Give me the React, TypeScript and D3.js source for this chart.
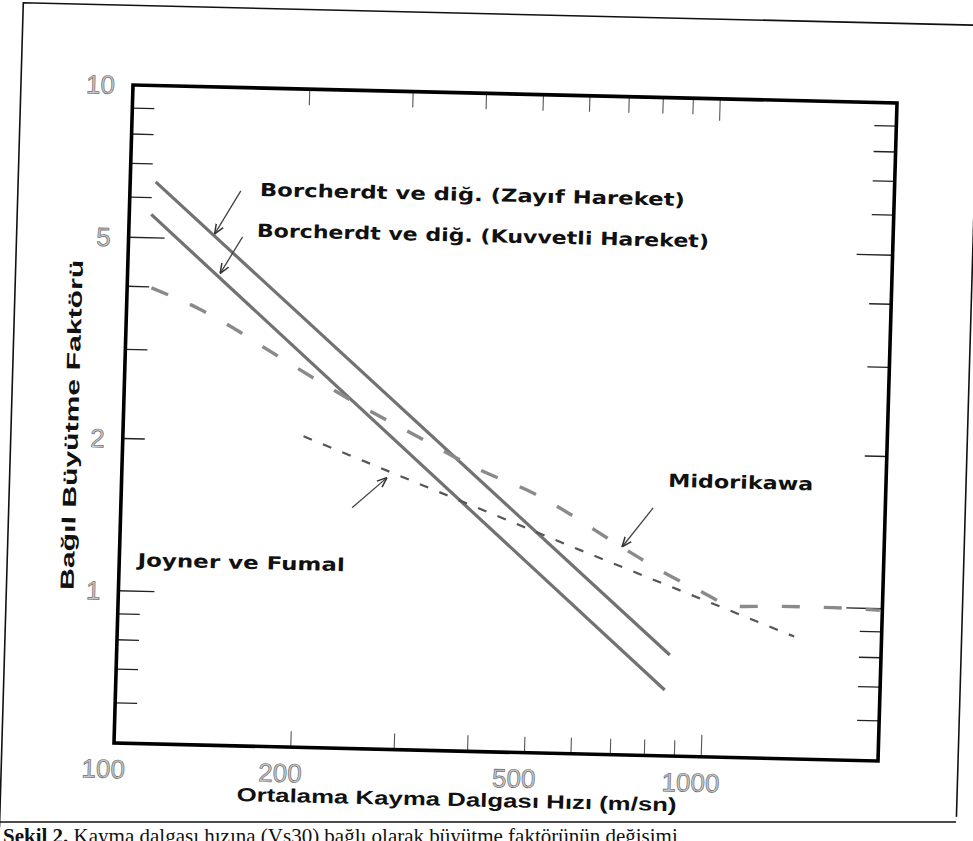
import React from "react";
import * as d3 from "d3";

// Vs30 (m/sn) vs relative amplification
const borcherdtWeakV = [110.5, 874];
const borcherdtWeakF = [6.45, 0.792];
const borcherdtStrongV = [109, 860];
const borcherdtStrongF = [5.56, 0.675];
const midorikawaV = [110, 132, 152, 174, 266, 308, 407, 497, 730, 843, 965, 1130, 1340, 1565, 1980];
const midorikawaF = [3.98, 3.65, 3.35, 3.05, 2.31, 2.12, 1.8, 1.64, 1.27, 1.155, 1.07, 0.995, 1.0, 1.0, 0.993];
const joynerV = [203, 591, 1420];
const joynerF = [2.06, 1.28, 0.873];

const xTickValues = [200, 300, 400, 500, 600, 700, 800, 900, 1000];
const xLabelValues = [100, 200, 500, 1000];
const yTickValues = [0.6, 0.7, 0.8, 0.9, 1, 2, 3, 4, 5, 6, 7, 8, 9];
const yMajorTicks = [1, 5];
const yLabelValues = [1, 2, 5, 10];

const labelTexts = [
  "Borcherdt ve diğ. (Zayıf Hareket)",
  "Borcherdt ve diğ. (Kuvvetli Hareket)",
  "Midorikawa",
  "Joyner ve Fumal",
];
const labelV = [166.4, 165.2, 851.8, 107.5];
const labelF = [6.12, 5.08, 1.702, 1.12];
const labelWidths = [425, 452, 145, 207];

const arrowFromV = [154.4, 156.3, 805.4, 247.5];
const arrowFromF = [6.25, 5.07, 1.544, 1.496];
const arrowToV = [140, 143.7, 716, 282.9];
const arrowToF = [5.12, 4.28, 1.288, 1.722];

const xTitle = "Ortalama Kayma  Dalgası Hızı (m/sn)";
const yTitle = "Bağıl  Büyütme  Faktörü";

const App = () => {
  const width = 973;
  const height = 841;
  const plotW = 764;
  const plotH = 658;

  const x = d3.scaleLog().domain([100, 2000]).range([0, plotW]);
  const y = d3.scaleLog().domain([0.5, 10]).range([plotH, 0]);

  const line = (vs: number[], fs: number[], curve = d3.curveLinear) =>
    d3
      .line<number>()
      .x((d) => x(vs[d]))
      .y((d) => y(fs[d]))
      .curve(curve)(vs.map((_, i) => i)) as string;

  const labelFont = "'DejaVu Sans', Verdana, sans-serif";
  const tickFont = "'Liberation Sans', Arial, sans-serif";

  return (
    <svg
      width={width}
      height={height}
      style={{ position: "absolute", left: 0, top: 0, background: "#fff" }}
    >
      <defs>
        <marker
          id="ah"
          viewBox="0 0 10 10"
          refX="10"
          refY="5"
          markerWidth="10"
          markerHeight="10"
          markerUnits="userSpaceOnUse"
          orient="auto"
        >
          <path d="M0,1 L10,5 L0,9" fill="none" stroke="#333" strokeWidth="1.5" />
        </marker>
      </defs>
      <rect width={width} height={height} fill="#fff" />

      {/* scanned page is slightly skewed */}
      <g transform="matrix(1,0.02356,-0.02888,1,133,85)">
        {/* outer figure frame */}
        <path
          d="M-112,745 V-79.6 H850 M844,-79.6 V712"
          fill="none"
          stroke="#111"
          strokeWidth={1.6}
        />

        {/* left / right ticks */}
        {yTickValues.map((v) => {
          const len = yMajorTicks.includes(v) ? 36 : 22;
          return (
            <g key={"yt" + v} stroke="#222" strokeWidth={1.3}>
              <line x1={0} x2={len} y1={y(v)} y2={y(v)} />
              <line x1={plotW - len} x2={plotW} y1={y(v)} y2={y(v)} />
            </g>
          );
        })}
        {/* top / bottom ticks */}
        {xTickValues.map((v) => {
          const len = v === 1000 ? 22 : 16;
          return (
            <g key={"xt" + v} stroke="#555" strokeWidth={1.1}>
              <line x1={x(v)} x2={x(v)} y1={0} y2={len} />
              <line x1={x(v)} x2={x(v)} y1={plotH} y2={plotH - len} />
            </g>
          );
        })}

        {/* data */}
        <path
          d={line(borcherdtWeakV, borcherdtWeakF)}
          fill="none"
          stroke="#727272"
          strokeWidth={3.2}
        />
        <path
          d={line(borcherdtStrongV, borcherdtStrongF)}
          fill="none"
          stroke="#727272"
          strokeWidth={3.2}
        />
        <path
          d={line(midorikawaV, midorikawaF, d3.curveMonotoneX)}
          fill="none"
          stroke="#8a8a8a"
          strokeWidth={3.4}
          strokeDasharray="18 24"
        />
        <path
          d={line(joynerV, joynerF)}
          fill="none"
          stroke="#555"
          strokeWidth={2.2}
          strokeDasharray="9 12"
        />

        {/* plot frame */}
        <rect x={0} y={0} width={plotW} height={plotH} fill="none" stroke="#000" strokeWidth={3.6} />

        {/* tick labels */}
        {yLabelValues.map((v) => (
          <text
            key={"yl" + v}
            x={-18}
            y={y(v)}
            dy="0.36em"
            textAnchor="end"
            fontFamily={tickFont}
            fontSize={26}
            fill="#c8c8c8"
            stroke="#707070"
            strokeWidth={0.7}
          >
            {v}
          </text>
        ))}
        {xLabelValues.map((v) => (
          <text
            key={"xl" + v}
            x={x(v) - 10}
            y={plotH + 35}
            textAnchor="middle"
            fontFamily={tickFont}
            fontSize={26}
            fill="#c8c8c8"
            stroke="#707070"
            strokeWidth={0.7}
          >
            {v}
          </text>
        ))}

        {/* annotations */}
        {labelTexts.map((t, i) => (
          <text
            key={t}
            x={x(labelV[i])}
            y={y(labelF[i])}
            fontFamily={labelFont}
            fontWeight="bold"
            fontSize={18}
            fill="#111"
            textLength={labelWidths[i]}
            lengthAdjust="spacingAndGlyphs"
          >
            {t}
          </text>
        ))}
        {arrowFromV.map((v, i) => (
          <line
            key={"ar" + i}
            x1={x(v)}
            y1={y(arrowFromF[i])}
            x2={x(arrowToV[i])}
            y2={y(arrowToF[i])}
            stroke="#444"
            strokeWidth={1.3}
            markerEnd="url(#ah)"
          />
        ))}

        {/* axis titles */}
        <text
          x={344}
          y={713}
          textAnchor="middle"
          fontFamily={tickFont}
          fontWeight="bold"
          fontSize={19}
          fill="#111"
          textLength={440}
          lengthAdjust="spacingAndGlyphs"
        >
          {xTitle}
        </text>
        <text
          transform="translate(-45,341) rotate(-90)"
          textAnchor="middle"
          fontFamily={tickFont}
          fontWeight="bold"
          fontSize={19}
          fill="#111"
          textLength={330}
          lengthAdjust="spacingAndGlyphs"
        >
          {yTitle}
        </text>
      </g>

      {/* caption strip of the page */}
      <line x1={0} x2={956} y1={822} y2={822} stroke="#111" strokeWidth={1.6} />
      <text x={3} y={843} fontFamily="'Liberation Serif', 'Times New Roman', serif" fontSize={21} fill="#111">
        <tspan fontWeight="bold">Şekil 2.</tspan> Kayma dalgası hızına (Vs30) bağlı olarak büyütme faktörünün değişimi
      </text>
    </svg>
  );
};

export default App;
